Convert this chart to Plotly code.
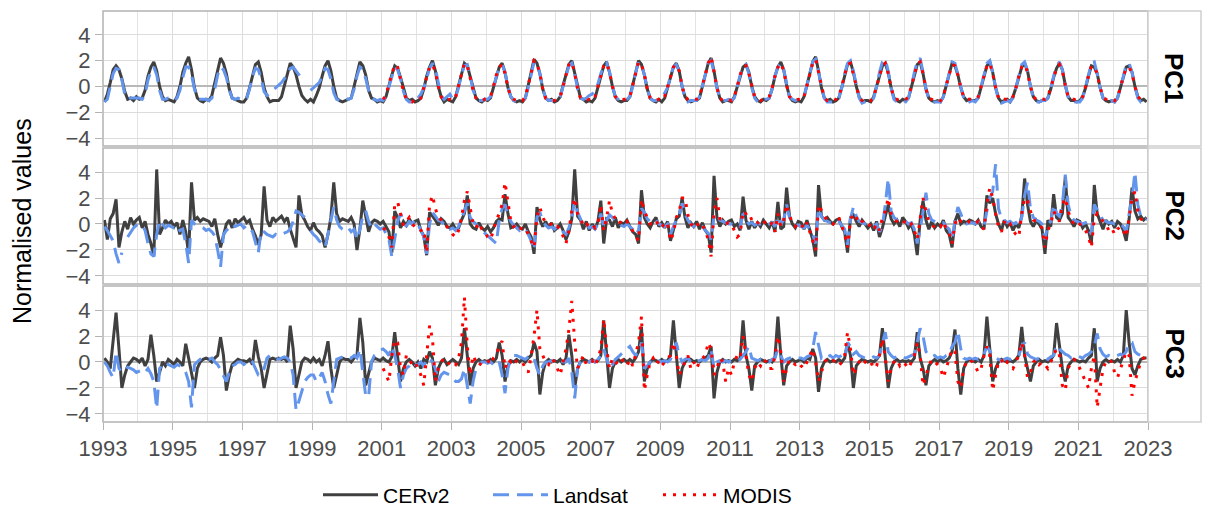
import plotly.graph_objects as go

# ---------------- data (monthly values) ----------------
cer_start, modis_start = 1993, 2001

cer_pc1 = [
    -1.2, -0.6, 0.3, 1.3, 1.6, 1.3, 0.6, -0.4, -1.0, -0.9, -1.1, -0.8,
    -1.0, -0.9, -0.3, 0.8, 1.5, 1.9, 1.2, 0.0, -0.8, -1.1, -1.0, -1.1,
    -1.2, -0.8, 0.0, 1.1, 1.8, 2.3, 1.3, -0.1, -0.9, -1.1, -1.2, -1.0,
    -1.1, -0.7, 0.2, 1.2, 2.2, 1.8, 1.0, -0.2, -0.9, -1.0, -1.1, -1.2,
    -1.2, -0.9, -0.1, 0.9, 1.7, 1.9, 1.1, -0.1, -0.8, -1.2, -1.1, -1.1,
    -1.1, -0.8, 0.1, 1.0, 1.8, 1.5, 0.9, 0.0, -0.7, -1.0, -1.2, -1.0,
    -1.2, -0.7, -0.1, 0.8, 1.6, 2.0, 1.2, 0.0, -0.9, -1.1, -1.2, -1.1,
    -1.0, -0.9, 0.0, 1.0, 1.9, 1.6, 0.9, -0.3, -0.9, -1.0, -1.2, -1.1,
    -1.2, -0.8, 0.1, 0.9, 1.6, 1.4, 0.7, -0.2, -0.9, -1.1, -1.0, -1.2,
    -1.1, -0.9, -0.2, 0.8, 1.5, 2.0, 1.2, 0.0, -0.8, -1.2, -1.0, -1.1,
    -1.2, -0.8, 0.0, 1.0, 1.8, 1.6, 0.8, -0.2, -0.9, -1.1, -1.2, -1.0,
    -1.1, -0.9, -0.1, 0.9, 1.5, 1.8, 1.1, -0.1, -0.8, -1.1, -1.2, -1.1,
    -1.2, -0.9, 0.0, 1.1, 2.1, 1.8, 1.0, -0.2, -0.9, -1.1, -1.0, -1.2,
    -1.1, -0.8, 0.1, 1.0, 1.7, 2.0, 1.0, -0.1, -0.9, -1.0, -1.2, -1.1,
    -1.2, -0.9, 0.0, 0.9, 1.6, 1.9, 1.1, 0.0, -0.8, -1.1, -1.2, -1.1,
    -1.1, -0.8, 0.1, 1.2, 2.0, 1.7, 0.9, -0.2, -0.9, -1.1, -1.2, -1.0,
    -1.2, -0.9, -0.1, 0.8, 1.5, 1.8, 1.2, 0.0, -0.8, -1.1, -1.2, -1.1,
    -1.1, -0.9, 0.0, 1.0, 1.8, 2.2, 1.2, -0.1, -0.9, -1.2, -1.1, -1.1,
    -1.2, -0.8, 0.0, 0.9, 1.5, 1.7, 1.1, 0.0, -0.8, -1.1, -1.2, -1.0,
    -1.1, -0.9, -0.2, 0.8, 1.5, 1.9, 1.3, 0.1, -0.8, -1.1, -1.2, -1.1,
    -1.2, -0.8, 0.0, 1.0, 1.9, 2.3, 1.2, -0.1, -0.9, -1.1, -1.0, -1.2,
    -1.1, -0.9, -0.1, 0.9, 1.7, 1.9, 1.1, 0.0, -0.8, -1.2, -1.1, -1.1,
    -1.2, -0.8, 0.0, 1.0, 1.6, 1.8, 1.1, -0.1, -0.9, -1.1, -1.2, -1.0,
    -1.1, -0.9, 0.0, 1.0, 1.7, 1.9, 1.0, -0.2, -0.9, -1.1, -1.2, -1.1,
    -1.2, -0.8, 0.1, 0.9, 1.8, 1.6, 0.9, -0.1, -0.8, -1.1, -1.0, -1.1,
    -1.1, -0.9, 0.0, 0.9, 1.6, 1.9, 1.1, -0.1, -0.9, -1.2, -1.1, -1.0,
    -1.2, -0.8, -0.1, 0.8, 1.5, 1.8, 1.2, 0.0, -0.8, -1.1, -1.2, -1.1,
    -1.1, -0.9, -0.2, 0.7, 1.4, 1.8, 1.3, 0.1, -0.8, -1.1, -1.1, -1.2,
    -1.1, -0.8, -0.1, 0.8, 1.6, 1.5, 1.0, -0.1, -0.9, -1.1, -1.2, -1.1,
    -1.2, -0.9, -0.1, 0.8, 1.5, 1.6, 1.1, 0.0, -0.8, -1.1, -1.0, -1.2,
]

landsat_pc1 = [
    -1.2, -1.0, 0.0, 1.0, 1.4, 1.3, 0.5, -0.6, -1.0, -0.9, -0.9, -0.9,
    -0.9, -1.0, -0.6, 0.5, 1.2, 1.5, 0.9, -0.3, -1.0, -1.0, -0.9, -0.9,
    -1.1, -0.9, -0.3, 0.7, 1.5, 1.5, 0.9, -0.2, -0.9, -1.0, -1.0, -1.0,
    -1.1, -0.9, -0.2, 0.9, 1.5, 1.3, 0.7, -0.3, -0.9, -1.0, -0.9, -1.0,
    -1.1, -0.9, -0.2, 0.8, 1.4, 1.3, 0.6, -0.4, -0.7, -0.5, -0.3, -0.1,
    0.1, 0.3, 0.6, 1.0, 1.4, 1.5, 1.2, 0.9, 0.6, None, None, -0.3,
    -0.1, 0.1, 0.3, 0.8, 1.4, 1.3, 0.6, -0.5, -1.0, -1.1, -1.0, -0.9,
    -1.0, -0.9, -0.2, 0.8, 1.5, 1.3, 0.6, -0.3, -0.9, -1.0, -1.1, -1.0,
    -1.1, -0.8, 0.0, 0.8, 1.5, 1.3, 0.6, -0.4, -1.0, -1.2, -1.2, -1.0,
    -0.9, -0.6, -0.1, 0.6, 1.4, 1.8, 1.4, 0.3, -0.7, -1.0, -0.8, -0.6,
    -1.0, -0.8, -0.1, 0.9, 1.6, 1.7, 0.8, -0.3, -0.9, -1.1, -1.1, -1.0,
    -1.0, -0.8, -0.2, 0.8, 1.4, 1.7, 1.1, 0.0, -0.8, -1.1, -1.2, -1.1,
    -1.1, -0.9, -0.1, 1.0, 1.9, 1.8, 1.0, -0.2, -0.9, -1.1, -1.1, -1.1,
    -1.1, -0.8, 0.0, 0.9, 1.6, 1.8, 1.0, -0.2, -0.9, -1.0, -0.9, -0.7,
    -0.6, -0.3, 0.2, 1.0, 1.6, 1.8, 1.1, 0.0, -0.8, -1.0, -1.1, -1.0,
    -1.0, -0.8, 0.0, 1.1, 1.9, 1.7, 0.9, -0.2, -0.9, -1.1, -1.1, -1.0,
    -0.9, -0.5, -0.1, 0.8, 1.5, 1.7, 1.2, 0.0, -0.9, -1.2, -1.1, -1.1,
    -1.1, -0.8, 0.0, 1.0, 1.8, 2.0, 1.1, -0.1, -0.9, -1.1, -1.1, -1.0,
    -1.1, -0.9, 0.0, 0.9, 1.5, 1.7, 1.0, -0.1, -0.9, -1.2, -1.2, -1.0,
    -1.0, -0.9, -0.2, 0.8, 1.5, 1.8, 1.3, 0.1, -0.8, -1.0, -1.1, -1.0,
    -1.1, -0.8, 0.0, 1.0, 1.9, 2.1, 1.2, -0.1, -0.9, -1.2, -1.2, -1.2,
    -1.1, -0.9, -0.1, 1.0, 1.8, 2.0, 1.2, 0.0, -0.9, -1.3, -1.2, -1.1,
    -1.2, -0.9, 0.0, 1.1, 1.9, 2.1, 1.2, -0.1, -1.0, -1.2, -1.2, -1.1,
    -1.2, -0.9, 0.0, 1.1, 1.9, 2.2, 1.1, -0.2, -1.0, -1.2, -1.2, -1.2,
    -1.2, -0.8, 0.1, 1.0, 1.9, 1.8, 0.9, -0.2, -0.9, -1.3, -1.2, -1.1,
    -1.2, -0.9, 0.0, 1.0, 1.8, 2.0, 1.1, -0.1, -1.0, -1.3, -1.2, -1.1,
    -1.2, -0.9, -0.1, 0.9, 1.7, 1.9, 1.2, 0.0, -0.9, -1.2, -1.2, -1.1,
    -1.1, -0.9, -0.2, 0.8, 1.6, 1.9, 1.3, 0.1, -0.8, -1.2, -1.2, -1.2,
    -1.2, -0.9, -0.1, 0.9, 1.8, 1.9, 1.0, -0.1, -0.9, -1.2, -1.2, -1.1,
    -1.2, -0.9, -0.1, 0.9, 1.7, 1.8, 1.1, 0.0, -0.9, -1.2, -1.1, -1.2,
]

modis_pc1 = [
    -1.0, -0.7, 0.2, 1.0, 1.7, 1.5, 0.6, -0.4, -1.0, -1.1, -1.2, -1.0,
    -1.1, -0.9, -0.1, 0.9, 1.5, 1.7, 1.1, 0.0, -0.8, -1.1, -1.1, -1.0,
    -1.1, -0.8, 0.1, 1.1, 1.8, 1.6, 0.7, -0.3, -0.9, -1.1, -1.1, -1.0,
    -1.0, -0.8, 0.0, 0.9, 1.5, 1.7, 1.0, -0.1, -0.8, -1.0, -1.1, -1.0,
    -1.1, -0.8, 0.1, 1.1, 2.0, 1.8, 1.0, -0.2, -0.9, -1.0, -1.1, -1.1,
    -1.0, -0.8, 0.1, 1.0, 1.7, 1.9, 1.0, -0.2, -0.9, -1.0, -1.1, -1.0,
    -1.1, -0.8, 0.0, 0.9, 1.6, 1.8, 1.1, 0.0, -0.8, -1.0, -1.1, -1.0,
    -1.0, -0.8, 0.1, 1.1, 1.9, 1.7, 0.9, -0.2, -0.9, -1.0, -1.1, -1.0,
    -1.1, -0.8, 0.0, 0.8, 1.5, 1.7, 1.2, 0.0, -0.8, -1.0, -1.1, -1.0,
    -1.0, -0.8, 0.1, 1.0, 1.8, 2.3, 1.2, -0.1, -0.9, -1.1, -1.1, -1.0,
    -1.1, -0.8, 0.0, 0.9, 1.5, 1.6, 1.0, 0.0, -0.8, -1.0, -1.1, -1.0,
    -1.0, -0.8, -0.1, 0.8, 1.5, 1.8, 1.2, 0.1, -0.8, -1.0, -1.1, -1.0,
    -1.1, -0.8, 0.0, 1.0, 1.8, 2.1, 1.1, -0.1, -0.9, -1.1, -1.0, -1.1,
    -1.0, -0.8, 0.0, 0.9, 1.7, 1.8, 1.0, 0.0, -0.8, -1.1, -1.1, -1.0,
    -1.1, -0.8, 0.0, 1.0, 1.6, 1.8, 1.0, -0.1, -0.9, -1.0, -1.1, -1.0,
    -1.0, -0.8, 0.0, 1.0, 1.7, 1.9, 1.0, -0.2, -0.9, -1.0, -1.1, -1.0,
    -1.1, -0.7, 0.1, 0.9, 1.7, 1.6, 0.9, -0.1, -0.8, -1.0, -1.0, -1.0,
    -1.0, -0.8, 0.0, 0.9, 1.6, 1.8, 1.0, -0.1, -0.9, -1.1, -1.0, -1.0,
    -1.1, -0.8, -0.1, 0.8, 1.5, 1.7, 1.1, 0.0, -0.8, -1.0, -1.1, -1.0,
    -1.0, -0.8, -0.1, 0.7, 1.4, 1.7, 1.2, 0.1, -0.8, -1.0, -1.0, -1.1,
    -1.0, -0.8, 0.0, 0.8, 1.6, 1.5, 1.0, -0.1, -0.8, -1.0, -1.1, -1.0,
    -1.1, -0.8, -0.1, 0.8, 1.4, 1.5, 1.0, 0.0, -0.8, -1.0, -1.0, -1.1,
]

cer_pc2 = [
    0.3, -1.2, 0.4, 0.8, 1.9, -1.8, -0.6, 0.2, -0.4, 0.5, 0.0, 0.3,
    0.5, -0.3, 0.2, -0.8, -1.5, -2.5, 4.2, -0.8, -0.3, 0.3, 0.0, 0.2,
    -0.2, 0.1, -0.8, 0.3, -0.6, -2.3, 3.2, 0.3, 0.5, 0.2, 0.4, 0.3,
    0.2, -0.2, 0.4, -0.8, -1.8, -0.9, 0.0, 0.3, -0.3, 0.4, 0.1, 0.3,
    0.5, 0.1, 0.3, -0.4, -0.9, -1.6, -0.8, 2.9, 0.3, -0.2, 0.5, 0.2,
    0.4, 0.6, 0.2, 0.5, -0.4, -1.2, -1.8, 2.2, 0.7, 0.3, -0.2, -0.5,
    0.1, -0.4, -0.6, -0.9, -1.8, -0.8, 0.5, 3.2, 0.8, 0.2, 0.4, 0.3,
    0.2, 0.5, 0.0, -2.0, -0.4, 1.8, 0.6, -0.6, 0.1, 0.3, 0.2, 0.0,
    0.2, -0.2, -0.6, -2.2, 1.0, 0.5, -0.3, 0.2, -0.1, 0.4, 0.0, 0.2,
    0.3, -0.5, -0.9, -2.4, 0.9, 0.6, 0.3, -0.1, 0.4, 0.2, -0.2, -0.3,
    0.0, -0.4, -0.3, 0.3, 0.8, 2.2, 0.0, -0.3, -0.4, 0.1, -0.3, -0.5,
    -0.2, -0.6, -0.3, 0.2, 0.4, 0.3, 2.3, 0.8, -0.3, -0.2, 0.0, -0.3,
    -0.4, 0.0, -0.6, -1.0, -2.3, 1.3, 0.3, -0.2, 0.2, -0.3, 0.1, -0.5,
    -0.3, 0.0, -0.5, -1.2, -0.6, 0.4, 4.2, 0.6, 0.3, -0.4, 0.2, -0.5,
    0.0, -0.4, 0.2, 1.8, -1.5, 0.4, 0.3, -0.2, 0.5, -0.3, 0.1, 0.0,
    0.3, -0.2, -0.6, -0.8, -1.5, 2.6, 0.5, 0.0, -0.3, 0.2, 0.5, -0.2,
    0.1, -0.3, 0.2, -1.3, -0.5, 0.4, 0.6, 2.0, 0.5, -0.3, 0.1, -0.2,
    0.2, -0.4, 0.1, -0.5, -0.8, -2.2, 3.7, 0.5, -0.2, 0.3, 0.0, 0.2,
    0.3, -0.2, 0.0, -0.5, 2.1, 0.3, -0.4, 0.2, -0.3, 0.1, -0.2, 0.3,
    0.0, -0.3, 0.2, -0.6, 1.7, -0.4, -0.2, 2.8, 0.6, 0.0, -0.3, 0.2,
    0.1, -0.4, 0.3, -0.5, -1.2, -2.5, 3.0, 0.6, 0.3, 0.5, 0.2, 0.0,
    0.3, 0.4, -0.2, -0.6, -2.2, 0.5, 0.7, 0.2, -0.2, 0.3, 0.0, -0.3,
    0.0, -0.5, 0.2, -1.0, -0.3, 0.5, 1.5, 0.4, 0.0, 0.3, -0.2, 0.5,
    0.2, -0.3, 0.0, -0.8, -2.4, 0.3, 1.8, 0.3, -0.4, 0.2, -0.3, 0.0,
    -0.2, 0.3, -0.5, -0.8, -1.8, 0.2, 0.8, 0.0, 0.2, 0.1, 0.3, 0.2,
    0.0, 0.3, -0.2, -0.4, 2.2, 1.6, 2.0, 0.8, 0.0, -0.5, 0.3, -0.2,
    0.1, -0.5, 0.0, -0.3, 0.6, 3.5, 1.5, 0.2, -0.2, 0.3, 0.0, -0.4,
    -2.3, 0.3, -0.2, 2.3, 0.5, 0.3, 0.8, 3.6, 0.5, 0.2, -0.2, 0.3,
    0.2, -0.3, 0.0, -0.5, -1.5, 3.0, 0.8, 0.2, -0.4, 0.3, 0.0, 0.2,
    -0.3, 0.2, 0.0, -0.5, -1.3, 0.4, 2.8, 1.0, 0.4, 0.6, 0.3, 0.5,
]

landsat_pc2 = [
    -0.2, -0.5, -0.9, -1.3, -2.3, -3.0, -2.2, None, -1.0, -0.6, -0.3, -0.1,
    0.0, -0.1, -0.5, -1.5, -2.3, -2.5, -0.8, 0.3, 0.0, -0.3, -0.1, -0.2,
    -0.3, -0.1, -0.5, -0.4, -1.5, -3.0, 0.3, 0.0, -0.1, -0.2, -0.3, -0.5,
    -0.4, -0.6, -0.9, -2.0, -3.3, -0.8, -0.5, -0.3, 0.0, -0.2, -0.1, 0.0,
    -0.3, -0.1, -0.3, -0.6, -1.4, -2.2, -0.5, -0.6, -0.8, -0.9, -1.0, -0.8,
    -0.9, -0.8, -0.7, -0.6, -0.4, 0.2, 1.0, 0.9, 0.7, 0.5, None, -0.5,
    -0.8, -1.0, -1.3, -1.5, -1.8, -0.8, 0.2, 1.3, 0.3, -0.2, -0.4, -0.5,
    -0.3, -0.6, -0.4, -1.2, -0.4, 0.6, 1.0, 0.2, -0.3, 0.0, -0.2, -0.4,
    -0.3, -0.8, -1.2, -2.5, -1.0, 0.2, 0.8, 0.3, -0.2, 0.2, 0.0, 0.3,
    0.0, -0.5, -1.0, -2.3, 0.0, 0.9, 0.6, 0.3, 0.2, 0.0, -0.2, -0.4,
    -0.3, -0.5, -0.2, 0.4, 1.0, 1.6, 0.5, 0.2, 0.0, -0.3, -0.5, -0.7,
    -0.9, -1.1, -1.3, -1.5, 0.3, 1.2, 1.5, 0.7, 0.2, -0.1, -0.3, -0.5,
    -0.3, -0.4, -0.8, -1.3, -2.0, 0.5, 0.9, 0.2, -0.1, -0.3, -0.2, -0.4,
    -0.2, -0.3, -0.6, -0.8, -0.3, 0.5, 1.8, 0.9, 0.4, -0.2, 0.0, -0.3,
    -0.2, -0.4, 0.0, 0.8, -0.3, 0.3, 0.7, 0.5, 0.3, 0.2, -0.1, -0.2,
    0.0, -0.2, -0.4, -0.8, -0.5, 1.2, 0.9, 0.4, 0.2, 0.1, 0.3, 0.0,
    -0.1, -0.2, 0.0, -0.8, -0.2, 0.3, 0.6, 1.6, 0.8, 0.3, 0.0, -0.2,
    -0.1, -0.3, -0.2, -0.5, -0.7, -1.2, 0.6, 0.8, 0.3, 0.2, 0.1, 0.0,
    0.0, -0.1, 0.0, -0.2, 0.8, 0.3, 0.0, 0.1, -0.1, 0.0, 0.0, 0.1,
    0.0, 0.0, 0.1, -0.2, 0.6, 0.0, 0.3, 1.5, 0.5, 0.2, 0.0, -0.1,
    -0.2, -0.3, -0.1, -0.4, -0.8, -1.5, 1.2, 0.6, 0.3, 0.2, 0.1, 0.0,
    0.1, 0.2, -0.1, -0.4, -1.6, 0.4, 1.3, 0.6, 0.2, 0.1, 0.0, 0.0,
    0.0, -0.2, 0.0, -0.6, -0.2, 1.5, 3.5, 1.0, 0.5, 0.3, 0.2, 0.3,
    0.2, 0.0, 0.1, -0.4, -1.5, -0.5, 0.8, 2.4, 0.8, 0.3, 0.2, 0.1,
    0.0, 0.1, -0.2, -0.4, -1.2, 0.3, 1.3, 0.8, 0.2, 0.0, 0.1, 0.1,
    0.0, 0.2, 0.0, -0.2, 1.0, 2.0, 2.5, 4.6, 1.2, 0.4, 0.3, 0.1,
    0.2, 0.0, 0.1, -0.2, 0.5, 2.2, 3.2, 1.2, 0.5, 0.3, 0.2, 0.0,
    -1.2, 0.0, 0.2, 1.5, 0.8, 0.6, 1.5, 3.8, 1.5, 0.6, 0.3, 0.2,
    0.1, 0.0, 0.1, -0.3, -0.8, 1.5, 1.1, 0.6, 0.3, 0.2, 0.1, 0.1,
    0.0, 0.1, 0.0, -0.2, -0.6, 0.8, 2.0, 4.0, 1.5, 0.6, 0.3, 0.4,
]

modis_pc2 = [
    -0.3, -0.5, -1.0, -1.8, 1.5, 1.7, 0.8, -0.1, 0.2, 0.5, 0.0, -0.2,
    -0.2, -0.5, -0.4, -2.2, 1.5, 2.2, 1.2, 0.5, 0.3, 0.0, -0.2, -0.5,
    -0.8, -1.0, -0.5, 0.5, 1.8, 2.5, 1.2, 0.0, -0.3, 0.1, -0.4, -0.6,
    -1.0, -1.2, -0.5, 0.3, 0.8, 1.5, 3.2, 1.5, 0.2, -0.2, 0.0, -0.3,
    -0.4, -0.3, -0.8, -1.2, -1.8, 0.5, 1.3, 0.5, 0.1, -0.1, 0.0, -0.3,
    -0.2, -0.4, -1.0, -1.5, -0.5, 1.0, 2.0, 0.8, 0.5, -0.2, 0.0, -0.2,
    0.0, -0.3, 0.0, 1.5, -0.5, 0.5, 1.8, 0.8, 0.4, 0.0, 0.2, 0.0,
    0.2, -0.2, -0.5, -0.9, -1.3, 1.9, 1.0, 0.5, 0.0, 0.2, 0.3, -0.2,
    0.0, -0.3, 0.0, -1.3, -0.7, 0.5, 1.0, 2.0, 2.0, 0.7, 0.0, -0.2,
    0.1, -0.3, -0.1, -0.5, -1.2, -2.5, 1.0, 2.0, 0.4, 0.3, 0.0, 0.1,
    0.0, -0.5, -1.0, -0.8, 1.0, 0.8, 0.9, 0.3, 0.0, 0.1, -0.1, 0.2,
    0.0, -0.2, 0.1, -0.6, 0.8, -0.2, 0.3, 1.5, 0.6, 0.1, -0.2, 0.1,
    0.0, -0.4, 0.1, -0.6, -1.2, -2.0, 1.5, 1.0, 0.6, 0.3, 0.1, 0.0,
    0.2, 0.5, -0.2, -0.8, -1.8, 0.3, 0.8, 0.5, 0.0, 0.2, 0.0, -0.2,
    0.0, -0.4, 0.0, -0.5, 0.5, 1.0, 2.0, 0.8, 0.3, 0.2, 0.0, 0.2,
    0.1, -0.2, 0.0, -0.5, -1.2, 0.3, 2.0, 1.0, 0.2, 0.0, -0.3, -0.1,
    -0.2, 0.2, -0.4, -0.7, -1.5, 0.0, 0.5, 0.2, 0.1, 0.0, 0.2, 0.1,
    0.0, 0.2, -0.2, -0.4, 1.5, 2.8, 2.0, 0.8, -0.2, -0.6, 0.2, -0.2,
    0.0, -0.5, -0.8, -1.0, 0.8, 2.0, 1.8, 1.0, 0.3, 0.2, 0.0, -0.3,
    -1.8, -0.5, 0.0, 1.0, 0.5, 0.2, 1.5, 2.0, 1.0, 0.3, 0.0, 0.2,
    0.0, -0.3, -0.5, -1.0, -1.8, 0.5, 0.8, 0.5, 0.2, 0.0, -0.5, -0.3,
    -0.8, -0.4, -0.2, -0.5, -1.0, 0.5, 2.0, 2.5, 1.0, 0.4, 0.2, 0.0,
]

cer_pc3 = [
    0.3, 0.0, -0.5, 1.5, 3.8, 1.0, -2.0, -1.0, -0.3, 0.0, 0.3, 0.2,
    0.0, 0.3, -0.3, 0.2, 2.1, 0.5, -1.5, -0.8, 0.0, -0.3, 0.2, 0.0,
    -0.2, 0.2, 0.0, -0.3, 1.4, 0.3, -1.0, -2.0, -0.5, 0.0, 0.2, 0.3,
    0.2, 0.0, 0.3, 0.5, 1.9, 0.5, -2.2, -1.0, -0.2, 0.0, 0.2, 0.1,
    0.1, 0.0, 0.2, -0.2, 1.7, 0.4, -0.5, -2.0, -0.8, 0.2, 0.3, 0.2,
    0.3, 0.2, 0.3, 0.0, 2.8, 1.0, -2.0, -1.0, 0.0, 0.3, 0.2, 0.0,
    0.3, 0.0, 0.2, -0.3, 0.5, 1.6, -0.5, -2.0, -1.0, 0.0, 0.3, 0.2,
    0.2, 0.0, 0.3, 0.5, 3.4, 1.5, -1.8, -0.8, 0.0, 0.3, 0.2, 0.1,
    0.3, 0.1, 0.0, 0.4, 2.3, 0.5, -1.5, -0.5, 0.0, 0.2, 0.0, -0.3,
    0.0, -0.5, 0.2, 0.0, 0.8, 0.3, -1.8, -0.5, 0.0, 0.2, -0.2, 0.0,
    0.2, 0.0, -0.2, 0.3, 2.6, 0.5, -1.8, -0.5, 0.0, 0.2, 0.0, 0.1,
    0.0, 0.2, 0.0, 0.3, 1.5, 0.5, -1.5, -0.3, 0.1, 0.0, 0.2, 0.0,
    0.2, 0.0, 0.3, 0.5, 1.5, 0.8, -2.5, -0.8, 0.0, 0.2, 0.0, 0.1,
    0.0, 0.2, -0.2, 0.3, 2.1, 0.5, -2.0, -0.5, 0.0, 0.2, 0.1, 0.0,
    0.2, 0.0, 0.1, 0.5, 3.2, 0.5, -2.0, -0.5, 0.0, 0.2, 0.0, 0.2,
    0.0, 0.2, 0.0, 0.3, 0.8, 2.7, -1.5, -0.5, 0.0, 0.2, 0.1, 0.0,
    0.2, 0.0, 0.1, 0.5, 3.2, 0.3, -2.0, -0.5, 0.0, 0.3, 0.2, 0.0,
    0.1, 0.0, 0.2, 0.3, 0.5, 1.2, -2.8, -0.8, 0.0, 0.2, 0.0, 0.1,
    0.0, 0.2, 0.1, 0.3, 3.2, 0.5, -0.5, -2.2, -0.3, 0.0, 0.2, 0.1,
    0.0, 0.1, 0.0, 0.4, 3.5, 0.5, -1.8, -0.3, 0.0, 0.2, 0.0, 0.1,
    0.2, 0.0, 0.3, 0.2, 1.0, 0.3, -2.3, -0.5, 0.0, 0.2, 0.0, 0.1,
    0.0, 0.2, 0.0, 0.3, 1.5, 0.5, -2.0, -0.3, 0.0, 0.2, 0.1, 0.0,
    0.1, 0.0, 0.2, 0.5, 2.6, 0.5, -2.0, -0.5, 0.0, 0.2, 0.0, 0.1,
    0.0, 0.1, 0.0, 0.3, 2.3, 0.3, -0.5, -1.8, -0.3, 0.0, 0.2, 0.0,
    0.2, 0.0, 0.1, 0.3, 0.8, 2.5, -0.5, -2.5, -0.5, 0.0, 0.2, 0.1,
    0.0, 0.2, 0.0, 0.5, 3.5, 1.0, -1.5, -0.5, 0.0, 0.2, 0.1, 0.0,
    0.1, 0.0, 0.2, 0.5, 2.7, 0.5, -0.5, -1.5, -0.3, 0.0, 0.2, 0.0,
    0.1, 0.0, 0.2, 0.5, 3.0, 1.0, -0.5, -1.5, -0.3, 0.0, 0.2, 0.1,
    0.0, 0.1, 0.0, 0.3, 0.5, 2.6, -1.5, -0.5, 0.0, 0.2, 0.0, 0.1,
    0.0, 0.2, 0.0, 0.5, 4.0, 1.5, -0.5, -1.0, -0.3, 0.2, 0.3, 0.3,
]

landsat_pc3 = [
    0.0, -0.3, -0.8, -1.2, 0.8, -0.5, -0.8, -0.6, -0.4, -0.5, -0.6, -0.8,
    -0.7, -0.6, -0.8, -0.5, -0.9, -1.5, -3.6, -0.5, -0.3, 0.0, -0.2, -0.3,
    -0.4, -0.2, -0.3, -0.4, -0.8, -1.5, -3.5, -0.2, 0.0, 0.2, 0.3, 0.3,
    0.2, 0.3, 0.0, -0.2, -0.6, -1.0, -1.5, -0.8, -0.3, -0.2, 0.0, 0.0,
    -0.2, 0.0, 0.2, 0.0, -0.5, -1.0, -1.0, -0.5, 0.3, 0.5, 0.5, 0.3,
    0.2, 0.3, 0.4, 0.3, 0.0, -1.0, -3.7, -3.0, -2.2, -1.5, -1.2, -1.0,
    -1.0, -1.5, -1.2, -0.8, -1.5, -2.5, -3.2, -1.5, 0.2, 0.3, 0.4, 0.5,
    0.4, 0.3, 0.5, 0.3, 1.0, -1.0, -2.6, -2.7, 0.0, 0.5, 0.7, 0.9,
    1.0, 0.8, 0.5, 1.2, 0.5, -0.5, -2.0, -1.0, -0.5, -0.3, 0.0, -0.2,
    -0.2, 0.0, -0.3, 0.2, 0.3, 0.0, -0.5, -1.5, -1.0, -0.8, -0.9, -1.0,
    -1.2, -1.5, -1.5, -1.3, -0.5, -2.0, -3.2, -1.5, -0.5, -0.2, 0.0, 0.0,
    -0.1, 0.0, -0.2, -0.3, 0.0, -1.0, -2.4, -0.5, 0.3, 0.5, 0.5, 0.4,
    0.3, 0.2, 0.4, 0.5, 0.3, -0.5, -1.0, -0.3, 0.0, 0.0, 0.1, 0.0,
    0.0, 0.1, 0.0, 0.0, 0.3, -0.8, -2.8, -0.5, 0.0, 0.2, 0.1, 0.0,
    0.1, 0.0, 0.2, 0.5, 1.0, 0.3, -0.5, -0.2, 0.2, 0.4, 0.6, 0.8,
    1.0, 1.2, 0.8, 0.5, 0.8, 1.5, -0.5, -0.3, 0.0, 0.0, 0.2, 0.1,
    0.0, 0.1, 0.0, 0.2, 0.8, 1.5, 0.5, 0.0, 0.2, 0.3, 0.0, 0.1,
    0.0, 0.1, 0.2, 0.1, 0.3, 1.0, -0.5, 0.0, 0.1, 0.0, 0.1, 0.0,
    0.1, 0.0, 0.1, 0.2, 0.5, 0.8, 1.2, 0.3, 0.2, 0.1, 0.2, 0.1,
    0.1, 0.0, 0.2, 0.3, 1.0, 0.5, 0.0, 0.2, 0.3, 0.3, 0.2, 0.3,
    0.3, 0.2, 0.4, 0.5, 1.0, 2.3, 1.2, 0.3, 0.5, 0.4, 0.5, 0.3,
    0.5, 0.4, 0.5, 0.3, 1.5, 1.2, 0.6, 0.8, 0.5, 0.4, 0.3, 0.4,
    0.3, 0.4, 0.3, 0.5, 1.5, 2.3, 0.8, 0.5, 0.3, 0.4, 0.3, 0.4,
    0.3, 0.4, 0.5, 0.6, 1.5, 2.6, 2.0, 0.8, 0.5, 0.4, 0.5, 0.3,
    0.4, 0.3, 0.5, 0.6, 1.2, 1.5, 2.4, 1.0, 0.3, 0.2, 0.3, 0.2,
    0.3, 0.2, 0.4, 0.6, 1.2, 0.8, 0.5, 0.3, 0.2, 0.1, 0.2, 0.3,
    0.2, 0.3, 0.4, 0.5, 1.2, 1.5, 0.6, 0.4, 0.3, 0.2, 0.3, 0.2,
    0.3, 0.2, 0.4, 0.5, 1.3, 1.0, 0.8, 0.6, 0.5, 0.3, 0.4, 0.5,
    0.4, 0.3, 0.5, 0.6, 0.8, 1.2, 2.2, 1.0, 0.6, 0.4, 0.5, 0.4,
    0.4, 0.5, 0.6, 0.5, 0.8, 1.5, 1.5, 0.8, 0.6, 0.5, 0.4, 0.5,
]

modis_pc3 = [
    -0.5, -1.0, -1.5, 0.5, 1.7, 1.5, -0.5, -1.0, 0.5, 0.2, -0.2, 0.0,
    -0.5, -1.0, -1.8, 0.5, 2.8, 1.8, -1.5, -0.5, 0.0, 0.3, 0.0, -0.2,
    0.0, -0.2, 0.3, 1.5, 5.0, 1.2, -1.0, 0.5, 0.0, -0.3, 0.0, 0.1,
    0.1, -0.2, 0.3, 0.5, 1.3, 1.6, -0.5, 0.2, 0.0, 0.3, 0.0, -0.1,
    0.0, -0.5, -0.8, 0.5, 2.0, 4.0, 1.0, 0.5, 0.0, -0.2, 0.3, 0.0,
    -0.5, -1.0, 0.0, 1.0, 2.5, 4.7, 1.5, -0.5, 0.0, 0.5, -0.2, 0.0,
    0.1, -0.3, 0.3, 1.0, 3.3, 1.0, -0.5, 0.3, 0.0, -0.2, 0.2, 0.0,
    -0.3, 0.2, -0.3, 0.5, 1.5, 3.5, -2.2, -1.0, 0.0, 0.3, -0.2, 0.1,
    -0.3, 0.0, 0.3, 0.5, 1.5, 0.5, -1.0, -0.5, 0.0, 0.5, -0.5, 0.0,
    -0.5, 0.0, 0.3, 0.5, 1.5, 1.0, -1.0, -0.5, 0.3, 0.0, -1.5, -0.5,
    -1.0, 0.0, 0.5, 0.3, 2.0, 0.5, -1.0, -1.5, -0.5, 0.0, -0.3, 0.2,
    0.0, -0.5, -0.5, 0.5, 2.0, 0.8, -1.5, -0.5, 0.2, 0.0, -0.2, 0.0,
    -0.3, -0.5, 0.0, 0.5, 1.0, 0.0, -1.5, -0.8, 0.0, 0.2, 0.0, 0.1,
    0.0, -0.3, 0.0, 0.5, 2.3, 1.0, -1.0, -0.5, 0.0, 0.3, 0.0, -0.2,
    0.0, -0.5, -0.3, 0.5, 1.8, 0.3, -1.5, -0.5, 0.0, 0.2, -0.3, 0.0,
    -0.2, -0.5, 0.0, 0.5, 1.5, 0.5, -1.8, -1.0, -0.3, 0.2, 0.0, -0.2,
    -0.5, -1.2, -0.5, 0.3, 1.0, 0.8, -1.5, -2.0, -0.5, 0.0, 0.2, 0.0,
    -0.3, -0.8, -0.5, 0.5, 1.2, 0.5, -2.2, -1.0, 0.0, 0.2, -0.3, 0.0,
    -0.3, -0.5, 0.0, 0.5, 1.5, 0.5, -1.2, -0.8, 0.0, 0.2, -0.2, 0.0,
    -0.2, -0.5, 0.0, 0.5, 1.0, 0.5, -1.8, -2.2, -0.5, 0.0, 0.2, 0.0,
    -0.5, -1.0, -1.5, -2.0, -0.5, 0.5, -3.5, -2.0, -0.5, 0.0, 0.2, 0.0,
    -0.8, -1.2, -0.5, 0.2, 0.8, 0.5, -2.6, -1.5, -0.8, 0.0, 0.3, 0.2,
]

panel_labels = ["PC1", "PC2", "PC3"]
series_names = ["CERv2", "Landsat", "MODIS"]
y_ticks = [-4, -2, 0, 2, 4]

# ---------------- build figure ----------------
def month_times(start, n):
    return [start + (i + 0.5) / 12 for i in range(n)]

panels = [
    (cer_pc1, landsat_pc1, modis_pc1),
    (cer_pc2, landsat_pc2, modis_pc2),
    (cer_pc3, landsat_pc3, modis_pc3),
]

W, H = 1207, 521
left_px, right_px, strip_right_px = 103, 1148, 1201
panel_px = [(11, 146), (148, 284), (286, 422)]
FONT = "Liberation Sans, Arial, sans-serif"

def px_x(p):
    return p / W

def px_y(p):
    return 1 - p / H

styles = [
    dict(color="#404040", width=3, dash="solid"),
    dict(color="#6495ED", width=3, dash="16px,8px"),
    dict(color="#FF0000", width=3, dash="3px,7px"),
]

fig = go.Figure()
for i, (cer, lan, mod) in enumerate(panels):
    xa = "x" if i == 0 else f"x{i+1}"
    ya = "y" if i == 0 else f"y{i+1}"
    data = [
        (month_times(cer_start, len(cer)), cer),
        (month_times(cer_start, len(lan)), lan),
        (month_times(modis_start, len(mod)), mod),
    ]
    for k, (tx, vy) in enumerate(data):
        fig.add_trace(go.Scatter(
            x=tx, y=vy, mode="lines", name=series_names[k],
            line=styles[k], xaxis=xa, yaxis=ya,
            showlegend=(i == 0), legendgroup=series_names[k],
            connectgaps=False, hoverinfo="skip",
        ))

axis_font = dict(family=FONT, size=22, color="#4d4d4d")
shapes = []
annotations = []
for i, (top, bot) in enumerate(panel_px):
    sfx = "" if i == 0 else str(i + 1)
    dom_y = [px_y(bot), px_y(top)]
    fig.layout[f"xaxis{sfx}"] = dict(
        domain=[px_x(left_px), px_x(right_px)], range=[1993, 2023],
        tickmode="linear", tick0=1993, dtick=2, tickformat="d",
        showgrid=True, gridcolor="#dcdcdc", gridwidth=1.2,
        minor=dict(dtick=1, tick0=1993, showgrid=True, gridcolor="#e3e3e3", gridwidth=1),
        showticklabels=(i == 2), ticks="outside" if i == 2 else "",
        ticklen=7, tickcolor="#b3b3b3", tickwidth=1.2,
        tickfont=axis_font, zeroline=False, showline=False, automargin=False,
        anchor=f"y{sfx}", matches=None if i == 0 else "x",
    )
    fig.layout[f"yaxis{sfx}"] = dict(
        domain=dom_y, range=[-4.62, 5.85], tickvals=y_ticks,
        showgrid=True, gridcolor="#dcdcdc", gridwidth=1.2,
        ticks="outside", ticklen=7, tickcolor="#b3b3b3", tickwidth=1.2,
        tickfont=axis_font, zeroline=True, zerolinecolor="#b8b8b8",
        zerolinewidth=2, showline=False, anchor=f"x{sfx}", automargin=False,
    )
    # panel border
    shapes.append(dict(type="rect", xref="paper", yref="paper",
                       x0=px_x(left_px), x1=px_x(right_px), y0=dom_y[0], y1=dom_y[1],
                       line=dict(color="#b3b3b3", width=1.5), fillcolor="rgba(0,0,0,0)",
                       layer="above"))
    # strip
    shapes.append(dict(type="rect", xref="paper", yref="paper",
                       x0=px_x(right_px), x1=px_x(strip_right_px), y0=dom_y[0], y1=dom_y[1],
                       line=dict(color="#d0d0d0", width=1.5), fillcolor="white",
                       layer="above"))
    annotations.append(dict(
        text=f"<b>{panel_labels[i]}</b>", xref="paper", yref="paper",
        x=px_x((right_px + strip_right_px) / 2), y=(dom_y[0] + dom_y[1]) / 2,
        textangle=90, showarrow=False, xanchor="center", yanchor="middle",
        font=dict(family=FONT, size=26, color="black"),
    ))

annotations.append(dict(
    text="Normalised values", xref="paper", yref="paper",
    x=px_x(22), y=px_y(221), textangle=-90, showarrow=False,
    xanchor="center", yanchor="middle",
    font=dict(family=FONT, size=25, color="black"),
))

fig.update_layout(
    width=W, height=H,
    margin=dict(l=0, r=0, t=0, b=0, autoexpand=False),
    paper_bgcolor="white", plot_bgcolor="white",
    shapes=shapes, annotations=annotations,
    showlegend=True,
    legend=dict(orientation="h", x=px_x(318), xanchor="left",
                y=px_y(495), yanchor="middle",
                font=dict(family=FONT, size=21, color="black"),
                entrywidth=100, entrywidthmode="pixels",
                itemwidth=55, bgcolor="rgba(0,0,0,0)"),
)

fig.write_html("out.html")
